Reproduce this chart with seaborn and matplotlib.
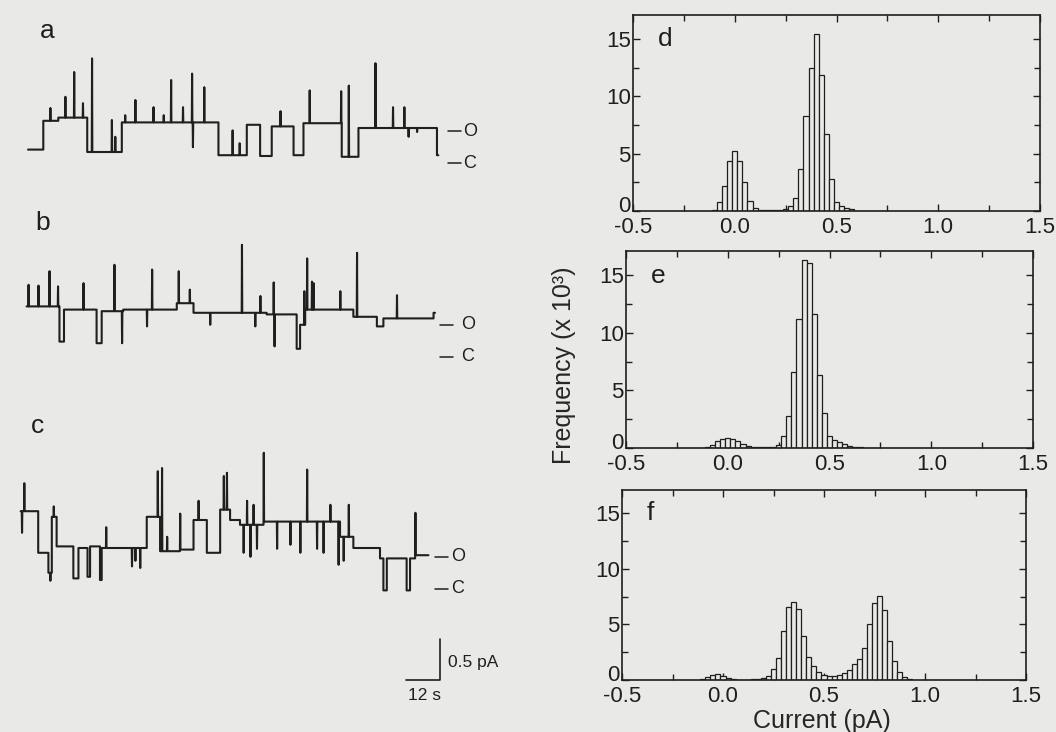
import matplotlib
matplotlib.use("Agg")
import matplotlib.pyplot as plt
import matplotlib.transforms as mtransforms
import numpy as np
import pandas as pd
import seaborn as sns
from matplotlib.ticker import MultipleLocator

# --- dados ---

# traços (tempo em s, corrente em pA relativa ao nível fechado)
# segmentos (início, nível) + picos (tempo, pico)
a_seg_t = [0.0, 5.4, 10.7, 20.9, 33.1, 67.2, 77.2, 81.9, 86.0, 93.7, 97.2, 110.7, 116.6, 144.3]
a_seg_i = [0.07, 0.43, 0.47, 0.04, 0.41, 0.0, 0.38, -0.01, 0.36, 0.0, 0.40, -0.02, 0.34, 0.0]
a_fim = 144.8
a_spk_t = [7.8, 13.1, 16.2, 19.3, 22.5, 29.5, 30.7, 34.2, 37.8, 44.2, 47.8, 50.4, 54.6, 57.8,
           58.1, 62.1, 72.1, 74.6, 89.0, 99.3, 110.4, 113.1, 122.5, 128.7, 132.7, 134.2, 137.2]
a_spk_i = [0.59, 0.73, 1.04, 0.65, 1.21, 0.44, 0.23, 0.50, 0.69, 0.60, 0.50, 0.94, 0.60, 1.02,
           0.10, 0.85, 0.31, 0.15, 0.55, 0.81, 0.80, 0.87, 1.15, 0.60, 0.60, 0.23, 0.29]

b_seg_t = [-0.5, 11.1, 12.7, 24.2, 26.0, 33.6, 52.5, 58.4, 84.2, 94.8, 96.0, 97.8, 114.8, 123.1, 125.4, 143.1]
b_seg_i = [0.53, 0.09, 0.49, 0.07, 0.47, 0.49, 0.57, 0.45, 0.43, 0.0, 0.30, 0.49, 0.40, 0.28, 0.38, 0.45]
b_fim = 143.6
b_spk_t = [0.1, 3.6, 7.5, 10.5, 19.5, 30.4, 33.1, 41.9, 43.7, 53.1, 57.0, 64.2, 75.4, 80.1,
           81.9, 86.6, 86.9, 97.4, 98.4, 100.1, 100.7, 110.1, 116.0, 130.1]
b_spk_i = [0.80, 0.79, 0.97, 0.78, 0.82, 1.05, 0.07, 0.28, 0.99, 0.97, 0.74, 0.30, 1.30, 0.28,
           0.66, 0.83, 0.03, 0.72, 1.13, 0.84, 0.82, 0.72, 1.20, 0.67]

c_seg_t = [-2.6, 3.6, 7.2, 8.4, 10.1, 16.0, 17.8, 21.0, 21.9, 25.4, 26.0, 41.9, 46.6, 53.6,
           58.4, 63.1, 67.8, 71.3, 74.8, 83.1, 110.1, 114.8, 124.2, 125.4, 126.6, 133.6, 134.8, 136.6]
c_seg_i = [0.87, 0.35, 0.10, 0.80, 0.43, 0.03, 0.41, 0.05, 0.43, 0.01, 0.41, 0.80, 0.37, 0.39,
           0.76, 0.35, 0.89, 0.76, 0.70, 0.74, 0.55, 0.41, 0.28, -0.12, 0.28, -0.12, 0.28, 0.32]
c_fim = 141.3
c_spk_t = [-2.2, -1.4, 7.8, 9.0, 27.5, 36.6, 37.8, 39.5, 45.7, 47.2, 49.0, 53.6, 60.1, 69.0,
           70.1, 76.0, 77.2, 78.4, 79.5, 80.7, 83.1, 87.8, 92.5, 96.0, 98.4, 101.9, 104.2,
           106.6, 109.5, 111.3, 113.1, 136.6]
c_spk_i = [0.60, 1.22, 0.00, 0.93, 0.67, 0.18, 0.25, 0.16, 1.37, 1.41, 0.55, 0.84, 1.00, 1.31,
           1.35, 0.35, 1.00, 0.30, 0.95, 0.40, 1.60, 0.40, 0.45, 0.35, 1.39, 0.40, 0.35,
           0.95, 0.20, 0.25, 0.95, 0.85]

# histogramas (corrente em pA, frequência em 10^3)
d_cur = [-0.1, -0.075, -0.05, -0.025, 0.0, 0.025, 0.05, 0.075, 0.1, 0.125, 0.15, 0.175, 0.2,
         0.225, 0.25, 0.275, 0.3, 0.325, 0.35, 0.375, 0.4, 0.425, 0.45, 0.475, 0.5, 0.525, 0.55, 0.575]
d_freq = [0.05, 0.8, 2.2, 4.4, 5.2, 4.4, 2.5, 0.9, 0.3, 0.1, 0.05, 0.05, 0.05,
          0.1, 0.2, 0.4, 1.1, 3.7, 8.3, 12.5, 15.4, 11.9, 6.7, 2.8, 0.8, 0.4, 0.3, 0.15]

e_cur = [-0.1, -0.075, -0.05, -0.025, 0.0, 0.025, 0.05, 0.075, 0.1, 0.125, 0.15, 0.175, 0.2,
         0.225, 0.25, 0.275, 0.3, 0.325, 0.35, 0.375, 0.4, 0.425, 0.45, 0.475, 0.5, 0.525,
         0.55, 0.575, 0.6, 0.625, 0.65]
e_freq = [0.1, 0.3, 0.6, 0.8, 0.9, 0.8, 0.6, 0.35, 0.15, 0.05, 0.05, 0.05, 0.05,
          0.1, 0.3, 1.0, 2.8, 6.6, 11.2, 16.3, 16.1, 11.6, 6.3, 3.0, 1.0, 0.7,
          0.5, 0.35, 0.2, 0.1, 0.05]

f_cur = [-0.1, -0.075, -0.05, -0.025, 0.0, 0.025, 0.05, 0.075, 0.1, 0.125, 0.15, 0.175, 0.2,
         0.225, 0.25, 0.275, 0.3, 0.325, 0.35, 0.375, 0.4, 0.425, 0.45, 0.475, 0.5, 0.525,
         0.55, 0.575, 0.6, 0.625, 0.65, 0.675, 0.7, 0.725, 0.75, 0.775, 0.8, 0.825, 0.85,
         0.875, 0.9, 0.925]
f_freq = [0.1, 0.3, 0.45, 0.5, 0.4, 0.2, 0.05, 0.03, 0.03, 0.03, 0.05, 0.1, 0.2,
          0.4, 1.0, 2.0, 4.4, 6.6, 7.0, 6.4, 4.0, 2.1, 1.3, 0.7, 0.45, 0.4,
          0.4, 0.45, 0.6, 0.9, 1.4, 1.9, 2.9, 5.0, 6.9, 7.6, 6.3, 3.5, 1.7,
          0.7, 0.3, 0.1]

x_ticks = [-0.5, 0.0, 0.5, 1.0, 1.5]
y_ticks = [0, 5, 10, 15]

# --- estilo ---
FUNDO = "#e9e9e7"
TINTA = "#1f1f1f"

sns.set_theme(style="ticks")
plt.rcParams["font.family"] = ["Liberation Sans", "DejaVu Sans"]
plt.rcParams["text.color"] = TINTA
plt.rcParams["axes.edgecolor"] = TINTA
plt.rcParams["xtick.color"] = TINTA
plt.rcParams["ytick.color"] = TINTA

fig = plt.figure(figsize=(10.56, 7.32), dpi=100, facecolor=FUNDO)


def monta_traco(seg_t, seg_i, t_fim, spk_t, spk_i):
    # transforma segmentos + picos em pontos de uma linha em degraus
    xs, ys = [], []
    limites = list(seg_t[1:]) + [t_fim]
    for t0, t1, nivel in zip(seg_t, limites, seg_i):
        xs.append(t0)
        ys.append(nivel)
        for ts, pico in zip(spk_t, spk_i):
            if t0 <= ts < t1:
                xs += [ts, ts + 0.1, ts + 0.2]
                ys += [nivel, pico, nivel]
        xs.append(t1)
        ys.append(nivel)
    return np.array(xs), np.array(ys)


# --- painel esquerdo: traços ---
ax_tr = fig.add_axes([0, 0, 520 / 1056, 1])
ax_tr.set_facecolor("none")

tracos = [
    (a_seg_t, a_seg_i, a_fim, a_spk_t, a_spk_i, 7.21, 148.3, 153.6),
    (b_seg_t, b_seg_i, b_fim, b_spk_t, b_spk_i, 4.79, 145.4, 152.8),
    (c_seg_t, c_seg_i, c_fim, c_spk_t, c_spk_i, 1.89, 143.7, 149.3),
]
for seg_t, seg_i, t_fim, spk_t, spk_i, base, mx0, tx in tracos:
    xs, ys = monta_traco(seg_t, seg_i, t_fim, spk_t, spk_i)
    sns.lineplot(x=xs, y=ys + base, sort=False, estimator=None, ax=ax_tr,
                 color=TINTA, lw=1.5)
    # marcas O / C
    for rel, letra in [(0.3, "O"), (-0.1, "C")]:
        ax_tr.plot([mx0, mx0 + 4.6], [base + rel, base + rel], color=TINTA, lw=1.1)
        ax_tr.text(tx, base + rel, letra, fontsize=13, va="center", ha="left")

# barra de escala
ax_tr.plot([133.2, 145.2, 145.2], [0.65, 0.65, 1.16], color=TINTA, lw=1.2)
ax_tr.text(148.3, 0.875, "0.5 pA", fontsize=12.5, va="center", ha="left")
ax_tr.text(139.8, 0.45, "12 s", fontsize=12.5, va="center", ha="center")

ax_tr.set_xlim(-9.88, 173.6)
ax_tr.set_ylim(0, 9.15)
ax_tr.axis("off")

for letra, x, y in [("a", 40, 38), ("b", 35, 230), ("c", 31, 433)]:
    fig.text(x / 1056, 1 - y / 732, letra, fontsize=19, va="baseline", ha="left")

# --- painéis direitos: histogramas ---
paineis = [
    ("d", d_cur, d_freq, [633, 15, 1040, 211]),
    ("e", e_cur, e_freq, [626, 251, 1033, 448]),
    ("f", f_cur, f_freq, [622, 490, 1026, 680]),
]
sobe_zero = mtransforms.ScaledTranslation(0, 5 / 72, fig.dpi_scale_trans)
eixos = []
for letra, cur, freq, (x0, y0, x1, y1) in paineis:
    ax = fig.add_axes([x0 / 1056, 1 - y1 / 732, (x1 - x0) / 1056, (y1 - y0) / 732])
    ax.set_facecolor(FUNDO)
    df_h = pd.DataFrame({"corrente": cur, "freq": freq})
    sns.histplot(data=df_h, x="corrente", weights="freq", binwidth=0.025,
                 binrange=(-0.1125, 0.9375), ax=ax, color=FUNDO,
                 edgecolor=TINTA, linewidth=0.9, alpha=1)
    ax.set_xlim(-0.5, 1.5)
    ax.set_ylim(0, 17.1)
    ax.set_xticks(x_ticks)
    ax.set_xticklabels([f"{v:.1f}" for v in x_ticks])
    ax.set_yticks(y_ticks)
    ax.xaxis.set_minor_locator(MultipleLocator(0.25))
    ax.yaxis.set_minor_locator(MultipleLocator(2.5))
    ax.tick_params(which="both", direction="in", top=True, right=True, width=1)
    ax.tick_params(which="major", length=5)
    ax.tick_params(which="minor", length=4)
    ax.tick_params(axis="x", labelsize=16, pad=4)
    ax.tick_params(axis="y", labelsize=16, pad=1.5)
    # o "0" do eixo y fica um pouco acima do "-0.5"
    rot0 = ax.get_yticklabels()[0]
    rot0.set_transform(rot0.get_transform() + sobe_zero)
    for sp in ax.spines.values():
        sp.set_linewidth(1.2)
    ax.set_xlabel("")
    ax.set_ylabel("")
    ax.text(0.06, 0.84, letra, transform=ax.transAxes, fontsize=19, va="baseline")
    eixos.append(ax)

eixos[1].set_ylabel("Frequency (x 10³)", fontsize=18, va="center", ha="center")
eixos[1].yaxis.set_label_coords(-0.152, 0.42)
eixos[2].set_xlabel("Current (pA)", fontsize=18, va="center", ha="center")
eixos[2].xaxis.set_label_coords(0.495, -0.215)

fig.savefig("out.png", dpi=100, facecolor=FUNDO)
